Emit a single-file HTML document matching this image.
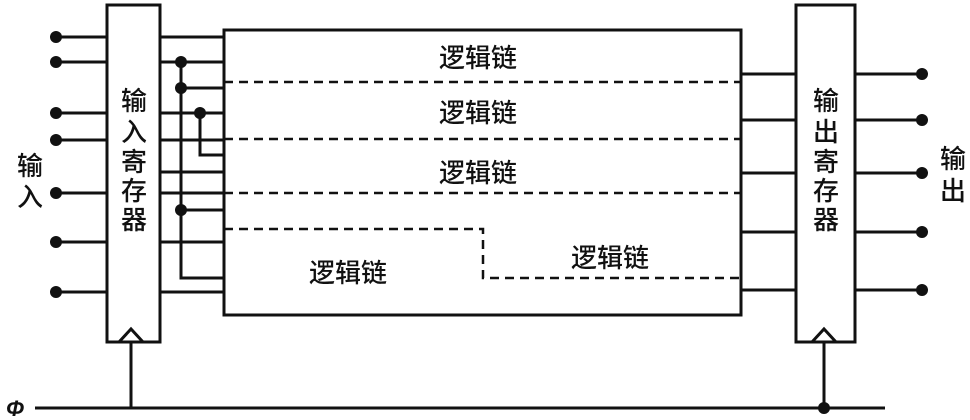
<!DOCTYPE html>
<html><head><meta charset="utf-8"><style>
body{margin:0;background:#fff;}
svg{display:block}
text{font-family:"Liberation Sans","Noto Sans CJK SC",sans-serif;font-size:26px;font-weight:500;fill:#111}
</style></head><body>
<svg width="970" height="420" viewBox="0 0 970 420" xmlns="http://www.w3.org/2000/svg">
<g stroke="#111" stroke-width="3" fill="none">
<rect x="107" y="5" width="53" height="337" fill="#fff"/>
<rect x="224" y="30" width="517" height="285"/>
<rect x="796" y="5" width="59" height="337" fill="#fff"/>
<polyline points="119,342 131,329 143,342"/>
<polyline points="812,342 824,329 836,342"/>
<line x1="131" y1="342" x2="131" y2="408"/>
<line x1="824" y1="342" x2="824" y2="408"/>
<line x1="35" y1="408" x2="885" y2="408"/>
<path d="M56 37H107M56 62H107M56 113H107M56 140H107M56 193H107M56 242H107M56 292H107"/>
<path d="M160 37H224M160 62H224M160 113H224M160 140H224M160 172H224M160 193H224M160 242H224M160 292H224"/>
<path d="M181 62V278H224M181 88H224M181 210H224M200 113V155H224"/>
<path d="M741 74H796M741 120H796M741 173H796M741 232H796M741 290H796"/>
<path d="M855 74H922M855 120H922M855 173H922M855 232H922M855 290H922"/>
<path stroke-dasharray="9,6" stroke-width="2.5" d="M224 82H741M224 139H741M224 193H741M224 229H483V278H741"/>
</g>
<g fill="#111">
<circle cx="56" cy="37" r="6"/><circle cx="56" cy="62" r="6"/><circle cx="56" cy="113" r="6"/><circle cx="56" cy="140" r="6"/><circle cx="56" cy="193" r="6"/><circle cx="56" cy="242" r="6"/><circle cx="56" cy="292" r="6"/>
<circle cx="181" cy="62" r="6"/><circle cx="181" cy="88" r="6"/><circle cx="200" cy="113" r="6"/><circle cx="181" cy="210" r="6"/>
<circle cx="922" cy="74" r="6"/><circle cx="922" cy="120" r="6"/><circle cx="922" cy="173" r="6"/><circle cx="922" cy="232" r="6"/><circle cx="922" cy="290" r="6"/>
<circle cx="824" cy="408" r="6"/>
</g>
<text x="478" y="67" text-anchor="middle">逻辑链</text>
<text x="478" y="122" text-anchor="middle">逻辑链</text>
<text x="478" y="182" text-anchor="middle">逻辑链</text>
<text x="610" y="267" text-anchor="middle">逻辑链</text>
<text x="348" y="282" text-anchor="middle">逻辑链</text>
<g style="font-size:25px">
<text x="134" y="110" text-anchor="middle">输</text>
<text x="134" y="141" text-anchor="middle">入</text>
<text x="134" y="171" text-anchor="middle">寄</text>
<text x="134" y="200" text-anchor="middle">存</text>
<text x="134" y="229" text-anchor="middle">器</text>
<text x="826" y="110" text-anchor="middle">输</text>
<text x="826" y="141" text-anchor="middle">出</text>
<text x="826" y="171" text-anchor="middle">寄</text>
<text x="826" y="200" text-anchor="middle">存</text>
<text x="826" y="229" text-anchor="middle">器</text>
<text x="30" y="175" text-anchor="middle">输</text>
<text x="30" y="206" text-anchor="middle">入</text>
<text x="953" y="168" text-anchor="middle">输</text>
<text x="953" y="200" text-anchor="middle">出</text>
</g>
<text x="15" y="416" text-anchor="middle" style="font-style:italic;font-weight:bold;font-size:22px">Φ</text>
</svg>
</body></html>
